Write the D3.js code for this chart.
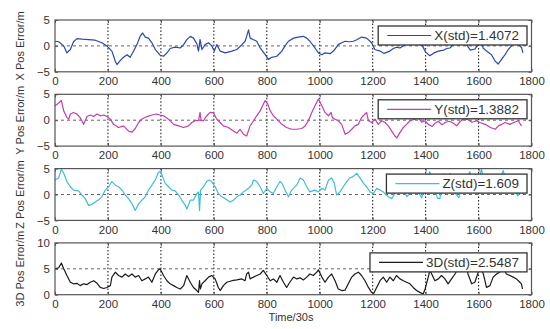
<!DOCTYPE html>
<html>
<head>
<meta charset="utf-8">
<script src="https://cdn.jsdelivr.net/npm/d3@7"></script>
<style>
  body { margin: 0; background: #fff; }
  svg { display: block; }
  text { font-family: "Liberation Sans", Arial, Helvetica, sans-serif; fill: #333; }
</style>
</head>
<body>
<svg id="chart" width="550" height="329"></svg>
<script>
// ---- data ----
const timeTicks = [0, 200, 400, 600, 800, 1000, 1200, 1400, 1600, 1800];
const errTicks = [-5, 0, 5];
const err3dTicks = [0, 5, 10];

const xTime = [0,14,33,45,58,70,83,102,127,152,177,196,215,228,234,247,259,272,284,297,310,322,331,341,353,366,379,397,410,423,435,454,473,486,498,511,523,536,542,548,555,567,580,592,602,611,624,643,668,687,706,718,724,731,737,750,762,775,794,806,819,838,857,869,882,901,919,938,951,963,982,995,1008,1020,1039,1052,1070,1083,1096,1114,1127,1140,1158,1177,1196,1208,1228,1243,1265,1278,1290,1303,1315,1330,1345,1360,1375,1387,1400,1416,1430,1448,1469,1480,1492,1505,1520,1540,1555,1569,1586,1599,1611,1617,1630,1649,1662,1674,1687,1700,1712,1724,1737,1750,1762,1768];
const xErr = [0.9,0.8,0,-1.35,-0.7,0.8,1.4,1.3,1.2,1.1,0.6,0,-1,-3,-3.6,-2.8,-2.2,-1.7,-2.2,-1,0.3,1.9,2.5,1.7,1.5,0.6,-0.7,-1.8,-2,-1.35,-0.5,-0.25,-0.4,0.25,1.2,1.85,1.5,0.4,-1,1.2,-0.7,0.25,0.6,0,-1,0.25,-1,-1.35,-1,-0.7,0.25,0.9,1.85,3.1,1.5,1.2,0.9,-0.4,-1.7,-2.6,-2.2,-2,-1,0,0.9,1.5,1.7,1.85,1.5,0.9,-0.4,-1.35,-1.7,-1.35,-1.5,-1,0.25,0.6,0.9,0.8,0.9,1.2,1.7,1.5,0.6,-0.7,-1,-1.45,-1,-0.5,-0.25,-0.4,0,0.5,0.2,0.6,0.3,0.1,-1.2,-1.9,-1.4,-1,-0.8,-0.5,-0.4,0.3,0.6,0.4,0.2,-0.8,-0.6,0.25,0.9,-0.4,-1,-1.7,-2.9,-3.5,-2.6,-1.7,-0.7,0,0.9,0.3,-0.3,-1.35];

const yTime = [0,14,24,33,45,52,58,70,83,95,108,121,133,146,159,171,184,196,209,221,240,259,278,291,303,316,328,347,366,385,397,410,429,448,467,486,504,517,530,542,548,552,561,573,586,599,611,624,636,655,674,687,699,712,724,737,750,762,775,787,794,804,813,825,838,857,875,894,913,932,945,957,970,982,995,1008,1020,1033,1043,1048,1058,1070,1083,1096,1108,1121,1133,1146,1158,1171,1177,1184,1196,1209,1221,1234,1247,1259,1272,1284,1291,1303,1316,1328,1341,1360,1373,1386,1398,1410,1425,1435,1448,1462,1475,1490,1505,1517,1530,1545,1560,1575,1592,1605,1625,1645,1663,1675,1688,1700,1718,1735,1750,1762];
const yErr = [2.8,3.3,3.8,1.8,0.5,0.2,1.2,1.5,1.2,0.5,-0.8,0.7,1,0.7,1.2,0.85,1,0.7,0.2,-0.8,-1.4,-1.1,-2.1,-2.3,-1.6,-0.45,0.2,0.7,1,1.2,1,0.85,0.2,-0.8,-1.1,-1.4,-1.1,-0.45,-0.1,-0.1,1.5,-0.1,-0.1,0.85,1.5,1.4,0.2,-0.45,-1.1,-1.4,-2.1,-2.5,-1.75,-2.7,-3.05,-1.1,-0.1,0.85,1.8,3.1,3.8,3.1,1.8,0.85,0.2,-0.8,-1.4,-1.75,-1.75,-1.6,-1.1,-0.1,1.5,2.8,4.1,2.8,1.5,0.85,1.5,0.5,0.2,-0.1,-0.8,-2.7,-2.4,-1.75,-1.1,-0.8,0.5,1.2,1.5,-0.1,-0.45,0.2,-0.8,-0.1,-0.45,-1.1,-2.1,-3.05,-3.4,-2.4,-1.4,-0.8,-0.1,0.2,0.4,-0.4,-0.1,-0.8,-1.2,-0.6,-0.2,-0.9,-0.4,-0.2,-0.6,-1.1,-0.3,0.3,0.1,-0.4,-0.1,-0.45,-0.8,-1.4,-1.75,-1.1,-0.8,-0.45,-0.8,-0.4,-0.1,-1.1];

const zTime = [0,14,24,33,45,58,70,89,102,114,127,140,152,165,177,190,203,215,228,240,253,265,278,291,303,316,328,341,353,366,379,389,397,406,416,429,441,454,467,479,492,498,511,523,536,542,546,550,561,573,582,592,605,617,630,643,662,674,687,699,712,731,743,750,762,775,787,800,813,825,838,850,857,869,882,894,913,926,938,951,963,982,995,1008,1020,1033,1045,1055,1064,1077,1089,1102,1114,1127,1140,1152,1165,1177,1190,1203,1215,1228,1240,1259,1272,1285,1300,1315,1330,1345,1360,1372,1385,1398,1410,1416,1425,1435,1445,1454,1462,1470,1480,1492,1500,1512,1525,1540,1555,1567,1578,1590,1600,1611,1620,1632,1645,1660,1675,1693,1705,1718,1732,1748,1760,1768];
const zErr = [2.8,3.2,4.9,4.1,2.5,1.5,0.85,0.7,-0.1,-0.8,-2.1,-1.9,-1.45,-1,-0.45,0.85,1.5,2.5,1.8,1.5,0.85,-0.1,-0.8,-1.8,-3.1,-1.8,-1.1,-0.45,0.85,1.8,2.8,4.1,4.5,3.5,2.2,1.5,0.85,0.7,-0.1,-1.1,-2.1,-2.8,-1.1,-1.1,0.2,0.5,-3.1,0.85,1.5,2.5,2.8,2.5,1.5,0.2,-0.45,-0.8,-1.45,-1.1,-0.45,-0.1,0.5,1.2,1.8,2.8,2.5,1.5,0.2,1.2,0.5,0.2,1.5,2.5,2.2,0.85,-0.45,0.85,1.8,3.2,2.8,1.5,0.5,0.85,0.5,1.2,0.85,2.8,3.2,2.2,-0.1,0.5,1.5,2.5,3.2,3.5,4.1,3.2,2.2,1.5,0.5,0.2,1.2,0.85,0.5,-0.45,-0.8,0.3,1.8,0.8,-0.4,0.6,2,0.4,-0.6,1.5,3.5,4.4,2.8,0.8,-0.7,-0.8,2.5,4,2,4.1,2.2,0.2,-0.6,1.5,3,4.4,2,0.4,2.5,4.9,2.8,0.3,1.8,0.5,2.4,4.6,2.6,0.5,1.6,-0.3,0.8,0.2];

const dTime = [0,14,24,33,45,58,70,83,95,108,121,133,146,159,171,184,196,209,215,228,240,253,265,278,291,303,316,328,341,353,366,379,391,397,410,423,435,448,460,473,486,498,511,523,536,542,546,549,555,567,580,592,605,617,624,636,649,668,687,706,718,724,731,737,750,762,775,787,800,813,825,838,850,863,875,887,901,913,926,938,951,963,976,989,995,1008,1020,1033,1045,1058,1070,1083,1096,1108,1121,1133,1146,1158,1171,1184,1196,1203,1215,1228,1240,1253,1265,1278,1290,1303,1316,1328,1341,1353,1366,1378,1391,1398,1410,1416,1423,1435,1448,1460,1473,1485,1498,1511,1523,1538,1548,1560,1574,1586,1599,1609,1618,1630,1643,1655,1668,1680,1693,1705,1718,1731,1743,1756,1762,1766];
const dErr = [5,5.2,6.1,5,3.7,2.4,2.1,2.2,1.75,2.1,1.95,2.4,2.7,2.2,1.4,1.2,1.4,1.75,3.4,4.35,3.7,3.4,4,3.5,4,3.4,3.7,2.7,3.05,3.4,2.4,4,4.8,5,3.7,2.7,2.1,1.75,1.4,1.1,1.75,3.7,2.4,1.4,0.8,0.45,2.7,1.1,2.1,2.7,3.4,3.7,3.05,1.4,0.8,1.75,2.4,2.7,2.85,3.05,2.7,4,4.35,3.05,3.4,3.7,4,4.7,3.7,2.7,3.05,2.4,3.7,2.4,1.4,2.4,3.4,3.05,3.25,2.85,3.4,4,3.7,4.35,4.8,3.4,2.4,3.4,4,2.7,1.1,0.8,0.9,2.1,3.4,4,4.35,3.7,2.7,1.4,0.45,0.15,1.4,2.7,3.4,2.4,3.4,2.7,3.7,3.05,2.7,2.4,2.1,1.4,0.8,0.45,0.15,1.1,3.4,4.7,4,2.7,3.05,3.7,3.05,2.1,3.05,4,5,6.8,7.2,4,2.1,2.4,4.35,5.3,4,1.4,1.75,3.4,4,4.35,5.3,4,3.7,3.4,3.05,2.4,2.1,1.1];

const axisLabels = ["X Pos Error/m", "Y Pos Error/m", "Z Pos Error/m", "3D Pos Error/m"];
const legendLabels = ["X(std)=1.4072", "Y(std)=1.3882", "Z(std)=1.609", "3D(std)=2.5487"];
const seriesColors = ["#2a48b0", "#c23eae", "#3fbdd6", "#1a1a1a"];
const xAxisTitle = "Time/30s";

// ---- layout ----
const svg = d3.select("#chart");
const plotLeft = 55, plotRight = 531.5;
const firstTop = 20, panelStep = 74.3, panelH = 51.8;
const legendOffsets = [6, 5.5, 5.5, 10];
const intFmt = d3.format("d");

const panels = [
  { t: xTime, v: xErr, domain: [-5, 5], ticks: errTicks, ref: 0 },
  { t: yTime, v: yErr, domain: [-5, 5], ticks: errTicks, ref: 0 },
  { t: zTime, v: zErr, domain: [-5, 5], ticks: errTicks, ref: 0 },
  { t: dTime, v: dErr, domain: [0, 10], ticks: err3dTicks, ref: 5 }
];

const x = d3.scaleLinear().domain([0, 1800]).range([plotLeft, plotRight]);

panels.forEach((p, i) => {
  const top = firstTop + i * panelStep;
  const bottom = top + panelH;
  const y = d3.scaleLinear().domain(p.domain).range([bottom, top]);
  const g = svg.append("g");

  const clipId = "clip" + i;
  svg.append("clipPath").attr("id", clipId)
    .append("rect").attr("x", plotLeft).attr("y", top)
    .attr("width", plotRight - plotLeft).attr("height", panelH);

  // vertical grid at each inner time tick
  g.append("g").selectAll("line")
    .data(timeTicks.slice(1, -1))
    .join("line")
    .attr("x1", d => x(d)).attr("x2", d => x(d))
    .attr("y1", top).attr("y2", bottom)
    .attr("stroke", "#222").attr("stroke-width", 1.1)
    .attr("stroke-dasharray", "1.5,2");

  // horizontal reference grid line
  g.append("line")
    .attr("x1", plotLeft).attr("x2", plotRight)
    .attr("y1", y(p.ref)).attr("y2", y(p.ref))
    .attr("stroke", "#666").attr("stroke-width", 1)
    .attr("stroke-dasharray", "3,3");

  // series trace
  const pts = p.t.map((t, k) => [t, p.v[k]]);
  g.append("path")
    .datum(pts)
    .attr("clip-path", `url(#${clipId})`)
    .attr("fill", "none")
    .attr("stroke", seriesColors[i])
    .attr("stroke-width", 1.2)
    .attr("stroke-linejoin", "round")
    .attr("d", d3.line().x(d => x(d[0])).y(d => y(d[1])));

  // axes (inward ticks, MATLAB style)
  const axB = g.append("g").attr("transform", `translate(0,${bottom})`)
    .call(d3.axisBottom(x).tickValues(timeTicks).tickFormat(intFmt)
      .tickSizeInner(-3).tickSizeOuter(0).tickPadding(5));
  const axT = g.append("g").attr("transform", `translate(0,${top})`)
    .call(d3.axisTop(x).tickValues(timeTicks).tickSizeInner(-3).tickSizeOuter(0).tickFormat(""));
  const axL = g.append("g").attr("transform", `translate(${plotLeft},0)`)
    .call(d3.axisLeft(y).tickValues(p.ticks).tickFormat(intFmt)
      .tickSizeInner(-3).tickSizeOuter(0).tickPadding(5));
  const axR = g.append("g").attr("transform", `translate(${plotRight},0)`)
    .call(d3.axisRight(y).tickValues(p.ticks).tickSizeInner(-3).tickSizeOuter(0).tickFormat(""));
  [axB, axT, axL, axR].forEach(a => {
    a.select(".domain").remove();
    a.selectAll(".tick line").attr("stroke", "#555");
    a.selectAll("text").attr("font-size", 11.5).attr("fill", "#333")
      .attr("font-family", '"Liberation Sans", Arial, sans-serif');
  });

  // plot frame
  g.append("rect")
    .attr("x", plotLeft).attr("y", top)
    .attr("width", plotRight - plotLeft).attr("height", panelH)
    .attr("fill", "none").attr("stroke", "#555").attr("stroke-width", 1.2);

  // y-axis title
  g.append("text")
    .attr("transform", `translate(24,${(top + bottom) / 2}) rotate(-90)`)
    .attr("text-anchor", "middle")
    .attr("font-size", 11)
    .text(axisLabels[i]);

  // legend
  const lg = g.append("g");
  const lTop = top + legendOffsets[i];
  const lH = 19;
  const txt = lg.append("text")
    .attr("x", plotRight - 12.5).attr("y", lTop + lH / 2 + 4.3)
    .attr("text-anchor", "end")
    .attr("font-size", 12)
    .text(legendLabels[i]);
  const tw = txt.node().getComputedTextLength() * 1.12;
  txt.attr("textLength", tw).attr("lengthAdjust", "spacingAndGlyphs");
  const textStart = plotRight - 12.5 - tw;
  const lineEnd = textStart - 3;
  const lineStart = lineEnd - 44;
  lg.insert("rect", "text")
    .attr("x", lineStart - 9).attr("y", lTop)
    .attr("width", plotRight - 4.5 - (lineStart - 9)).attr("height", lH)
    .attr("fill", "#fff").attr("stroke", "#333").attr("stroke-width", 1.3);
  lg.insert("line", "text")
    .attr("x1", lineStart).attr("x2", lineEnd)
    .attr("y1", lTop + lH / 2).attr("y2", lTop + lH / 2)
    .attr("stroke", seriesColors[i]).attr("stroke-width", 1.2);
});

// x-axis title
svg.append("text")
  .attr("x", 291).attr("y", 321)
  .attr("text-anchor", "middle")
  .attr("font-size", 11)
  .text(xAxisTitle);
</script>
</body>
</html>
